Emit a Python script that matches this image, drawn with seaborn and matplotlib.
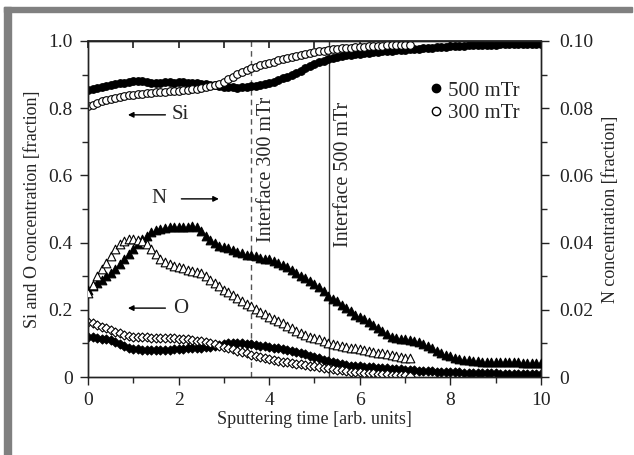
import numpy as np
import pandas as pd
import matplotlib
matplotlib.use("Agg")
import matplotlib.pyplot as plt
from matplotlib.lines import Line2D
from matplotlib.patches import Rectangle
import seaborn as sns

# sampling grid of the depth profile (arb. units)
t_500 = np.round(np.arange(101) * 0.1, 1)
t_300 = np.round(np.arange(72) * 0.1, 1)

si_500 = [0.855, 0.858, 0.860, 0.862, 0.865, 0.870, 0.873, 0.875, 0.876, 0.878,
          0.880, 0.882, 0.880, 0.878, 0.876, 0.875, 0.876, 0.878, 0.877, 0.876,
          0.877, 0.878, 0.876, 0.875, 0.874, 0.873, 0.872, 0.870, 0.868, 0.866,
          0.864, 0.863, 0.862, 0.861, 0.862, 0.863, 0.865, 0.867, 0.870, 0.872,
          0.875, 0.879, 0.884, 0.889, 0.894, 0.899, 0.905, 0.911, 0.918, 0.924,
          0.930, 0.936, 0.941, 0.946, 0.950, 0.953, 0.955, 0.957, 0.959, 0.961,
          0.962, 0.963, 0.965, 0.966, 0.968, 0.969, 0.970, 0.971, 0.972, 0.973,
          0.974, 0.975, 0.976, 0.977, 0.978, 0.979, 0.980, 0.981, 0.982, 0.983,
          0.984, 0.985, 0.986, 0.986, 0.987, 0.987, 0.988, 0.988, 0.989, 0.989,
          0.989, 0.990, 0.990, 0.990, 0.990, 0.991, 0.991, 0.991, 0.991, 0.991, 0.992]
si_300 = [0.805, 0.810, 0.815, 0.820, 0.823, 0.826, 0.830, 0.833, 0.836, 0.838,
          0.840, 0.842, 0.843, 0.845, 0.846, 0.847, 0.848, 0.849, 0.850, 0.851,
          0.852, 0.853, 0.855, 0.856, 0.858, 0.860, 0.862, 0.865, 0.868, 0.872,
          0.878, 0.886, 0.894, 0.902, 0.908, 0.914, 0.919, 0.923, 0.927, 0.930,
          0.934, 0.938, 0.942, 0.946, 0.950, 0.953, 0.956, 0.959, 0.962, 0.964,
          0.967, 0.969, 0.971, 0.973, 0.975, 0.977, 0.978, 0.979, 0.980, 0.981,
          0.982, 0.983, 0.984, 0.985, 0.986, 0.986, 0.987, 0.987, 0.988, 0.988,
          0.988, 0.988]
o_500 = [0.120, 0.118, 0.115, 0.113, 0.112, 0.110, 0.105, 0.098, 0.092, 0.087,
         0.084, 0.082, 0.080, 0.080, 0.079, 0.079, 0.080, 0.080, 0.081, 0.082,
         0.083, 0.084, 0.085, 0.085, 0.086, 0.087, 0.088, 0.090, 0.093, 0.096,
         0.099, 0.100, 0.101, 0.101, 0.100, 0.099, 0.097, 0.095, 0.093, 0.091,
         0.089, 0.087, 0.085, 0.082, 0.079, 0.076, 0.073, 0.070, 0.067, 0.064,
         0.060, 0.056, 0.052, 0.048, 0.044, 0.041, 0.038, 0.036, 0.034, 0.033,
         0.032, 0.031, 0.030, 0.029, 0.028, 0.027, 0.026, 0.025, 0.024, 0.023,
         0.022, 0.021, 0.020, 0.019, 0.018, 0.018, 0.017, 0.016, 0.016, 0.015,
         0.015, 0.014, 0.014, 0.013, 0.013, 0.012, 0.012, 0.012, 0.011, 0.011,
         0.011, 0.010, 0.010, 0.010, 0.010, 0.009, 0.009, 0.009, 0.009, 0.009, 0.009]
o_300 = [0.165, 0.160, 0.155, 0.150, 0.145, 0.140, 0.135, 0.130, 0.125, 0.122,
         0.120, 0.119, 0.118, 0.118, 0.117, 0.117, 0.116, 0.116, 0.115, 0.115,
         0.114, 0.113, 0.112, 0.110, 0.108, 0.106, 0.103, 0.100, 0.097, 0.093,
         0.090, 0.086, 0.082, 0.078, 0.074, 0.070, 0.066, 0.063, 0.060, 0.057,
         0.054, 0.051, 0.048, 0.046, 0.044, 0.042, 0.040, 0.038, 0.036, 0.034,
         0.032, 0.030, 0.028, 0.026, 0.024, 0.022, 0.020, 0.018, 0.016, 0.015,
         0.014, 0.013, 0.012, 0.011, 0.010, 0.009, 0.008, 0.007, 0.006, 0.005,
         0.005, 0.004]
n_500 = [0.0260, 0.0270, 0.0280, 0.0290, 0.0300, 0.0310, 0.0320, 0.0335, 0.0350, 0.0365,
         0.0380, 0.0395, 0.0410, 0.0420, 0.0430, 0.0437, 0.0440, 0.0442, 0.0445, 0.0447,
         0.0447, 0.0446, 0.0445, 0.0448, 0.0446, 0.0435, 0.0420, 0.0408, 0.0398, 0.0390,
         0.0388, 0.0385, 0.0378, 0.0372, 0.0368, 0.0362, 0.0362, 0.0360, 0.0355, 0.0352,
         0.0350, 0.0345, 0.0338, 0.0332, 0.0326, 0.0318, 0.0310, 0.0302, 0.0294, 0.0286,
         0.0278, 0.0268, 0.0256, 0.0240, 0.0232, 0.0225, 0.0215, 0.0205, 0.0195, 0.0185,
         0.0178, 0.0172, 0.0164, 0.0155, 0.0146, 0.0138, 0.0128, 0.0120, 0.0116, 0.0114,
         0.0112, 0.0110, 0.0108, 0.0104, 0.0098, 0.0092, 0.0085, 0.0078, 0.0072, 0.0066,
         0.0062, 0.0058, 0.0055, 0.0052, 0.0050, 0.0048, 0.0047, 0.0046, 0.0046, 0.0045,
         0.0045, 0.0045, 0.0044, 0.0044, 0.0044, 0.0044, 0.0043, 0.0043, 0.0043, 0.0043, 0.0043]
n_300 = [0.0250, 0.0275, 0.0300, 0.0320, 0.0340, 0.0360, 0.0380, 0.0395, 0.0405, 0.0410,
         0.0410, 0.0408, 0.0405, 0.0395, 0.0380, 0.0365, 0.0352, 0.0342, 0.0335, 0.0330,
         0.0327, 0.0323, 0.0318, 0.0314, 0.0311, 0.0308, 0.0300, 0.0290, 0.0280, 0.0270,
         0.0260, 0.0252, 0.0245, 0.0236, 0.0226, 0.0216, 0.0210, 0.0202, 0.0194, 0.0186,
         0.0180, 0.0174, 0.0166, 0.0160, 0.0152, 0.0146, 0.0138, 0.0132, 0.0126, 0.0120,
         0.0116, 0.0112, 0.0106, 0.0100, 0.0097, 0.0095, 0.0092, 0.0090, 0.0087, 0.0085,
         0.0082, 0.0080, 0.0078, 0.0075, 0.0072, 0.0070, 0.0067, 0.0065, 0.0062, 0.0060,
         0.0058, 0.0056]

interface_300 = 3.6
interface_500 = 5.32

sns.set_theme(style="ticks")
plt.rcParams['font.family'] = ['Liberation Serif', 'DejaVu Serif']

fig = plt.figure(figsize=(6.34, 4.55), dpi=100)
ax = fig.add_axes([0.1388, 0.1714, 0.7145, 0.7387])
ax2 = ax.twinx()

# grey frame of the original figure (left and top only)
fig.patches.append(Rectangle((4 / 634, 0), 7 / 634, 1 - 7 / 455, transform=fig.transFigure,
                             color='#808080', zorder=0))
fig.patches.append(Rectangle((4 / 634, 1 - 12 / 455), 628 / 634, 5 / 455, transform=fig.transFigure,
                             color='#808080', zorder=0))

ms = 30
df_si5 = pd.DataFrame({'t': t_500, 'v': si_500})
df_si3 = pd.DataFrame({'t': t_300, 'v': si_300})
df_o5 = pd.DataFrame({'t': t_500, 'v': o_500})
df_o3 = pd.DataFrame({'t': t_300, 'v': o_300})
df_n5 = pd.DataFrame({'t': t_500, 'v': n_500})
df_n3 = pd.DataFrame({'t': t_300, 'v': n_300})

sns.scatterplot(data=df_si5, x='t', y='v', ax=ax, marker='o', s=ms, color='black',
                edgecolor='black', linewidth=0.8, zorder=3)
sns.scatterplot(data=df_si3, x='t', y='v', ax=ax, marker='o', s=ms, color='white',
                edgecolor='black', linewidth=0.8, zorder=3)
sns.scatterplot(data=df_o5, x='t', y='v', ax=ax, marker='D', s=ms * 0.7, color='black',
                edgecolor='black', linewidth=0.8, zorder=3)
sns.scatterplot(data=df_o3, x='t', y='v', ax=ax, marker='D', s=ms * 0.7, color='white',
                edgecolor='black', linewidth=0.8, zorder=3)
sns.scatterplot(data=df_n5, x='t', y='v', ax=ax2, marker='^', s=ms * 1.3, color='black',
                edgecolor='black', linewidth=0.8, zorder=3)
sns.scatterplot(data=df_n3, x='t', y='v', ax=ax2, marker='^', s=ms * 1.3, color='white',
                edgecolor='black', linewidth=0.8, zorder=3)

ax.axvline(interface_300, color='#555555', ls=(0, (4, 3)), lw=1.0, zorder=1)
ax.axvline(interface_500, color='#333333', ls='-', lw=1.0, zorder=1)
ax.text(interface_300 + 0.33, 0.835, 'Interface 300 mTr', rotation=90, ha='center', va='top', fontsize=14.5)
ax.text(interface_500 + 0.31, 0.82, 'Interface 500 mTr', rotation=90, ha='center', va='top', fontsize=14.5)

# element annotations with arrows
arrow = dict(arrowstyle='-|>', color='black', lw=1.0, mutation_scale=8)
ax.annotate('', xy=(0.82, 0.78), xytext=(1.77, 0.78), arrowprops=arrow)
ax.text(1.85, 0.78, 'Si', ha='left', va='center', fontsize=15)
ax.text(1.74, 0.53, 'N', ha='right', va='center', fontsize=15)
ax.annotate('', xy=(2.95, 0.53), xytext=(2.0, 0.53), arrowprops=arrow)
ax.annotate('', xy=(0.82, 0.205), xytext=(1.77, 0.205), arrowprops=arrow)
ax.text(1.88, 0.205, 'O', ha='left', va='center', fontsize=15)

ax.set_xlim(0, 10)
ax.set_ylim(0, 1.0)
ax2.set_ylim(0, 0.1)
ax.set_xticks([0, 2, 4, 6, 8, 10])
ax.set_xticks([1, 3, 5, 7, 9], minor=True)
ax.set_xticklabels(['0', '2', '4', '6', '8', '10'])
ax.set_yticks([0, 0.2, 0.4, 0.6, 0.8, 1.0])
ax.set_yticks([0.1, 0.3, 0.5, 0.7, 0.9], minor=True)
ax.set_yticklabels(['0', '0.2', '0.4', '0.6', '0.8', '1.0'])
ax2.set_yticks([0, 0.02, 0.04, 0.06, 0.08, 0.10])
ax2.set_yticks([0.01, 0.03, 0.05, 0.07, 0.09], minor=True)
ax2.set_yticklabels(['0', '0.02', '0.04', '0.06', '0.08', '0.10'])

for a in (ax, ax2):
    a.tick_params(which='major', direction='out', length=6, width=1, labelsize=14, colors='#222222', pad=5)
    a.tick_params(which='minor', direction='out', length=4, width=1)
    for sp in a.spines.values():
        sp.set_visible(True)
        sp.set_linewidth(1.0)
        sp.set_color('#222222')
ax2.tick_params(which='major', pad=7)

top = ax.secondary_xaxis('top')
top.set_xticks(range(11))
top.tick_params(direction='in', length=5, labeltop=False)

ax.set_xlabel('Sputtering time [arb. units]', fontsize=13, labelpad=1)
ax.set_ylabel('Si and O concentration [fraction]', fontsize=13, labelpad=5)
ax2.set_ylabel('N concentration [fraction]', fontsize=13, labelpad=6)

handles = [Line2D([], [], ls='', marker='o', ms=6, mfc='black', mec='black'),
           Line2D([], [], ls='', marker='o', ms=6, mfc='white', mec='black')]
ax2.legend(handles, ['500 mTr', '300 mTr'], loc='upper right', bbox_to_anchor=(0.99, 0.93),
           frameon=False, fontsize=15, handletextpad=0.1, handlelength=1.0, labelspacing=0.15,
           borderpad=0.3)

fig.savefig('out.png', dpi=100)
